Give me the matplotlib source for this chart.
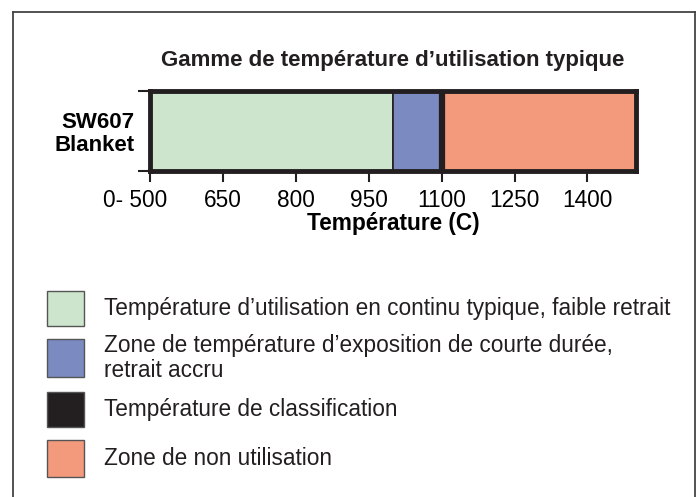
import matplotlib
matplotlib.use("Agg")
import matplotlib.pyplot as plt
from matplotlib.patches import Rectangle
from matplotlib.lines import Line2D
from matplotlib.transforms import ScaledTranslation

plt.rcParams.update({
    "font.family": ["Liberation Sans", "DejaVu Sans"],
    "text.color": "#231f20",
})

# data
product = "SW607\nBlanket"
zone_start = [500, 1000, 1100]
zone_end = [1000, 1100, 1500]
zone_colors = ["#cde4cd", "#7b8bc1", "#f39a7c"]
classification_temp = 1100
tick_values = [500, 650, 800, 950, 1100, 1250, 1400]
tick_labels = ["0- 500", "650", "800", "950", "1100", "1250", "1400"]

legend_labels = [
    "Température d’utilisation en continu typique, faible retrait",
    "Zone de température d’exposition de courte durée,\nretrait accru",
    "Température de classification",
    "Zone de non utilisation",
]
legend_colors = ["#cde4cd", "#7b8bc1", "#231f20", "#f39a7c"]

W, H = 696, 497
fig = plt.figure(figsize=(W / 100, H / 100), dpi=100)
dark = "#231f20"

# outer frame (open at the bottom)
frame = dict(color="#444444", lw=1.3, transform=fig.transFigure)
fig.add_artist(Line2D([13 / W, 13 / W], [0, 1 - 12 / H], **frame))
fig.add_artist(Line2D([13 / W, 694.5 / W], [1 - 12 / H, 1 - 12 / H], **frame))
fig.add_artist(Line2D([694.5 / W, 694.5 / W], [0, 1 - 12 / H], **frame))

# bar axes
ax = fig.add_axes([150 / W, 1 - 171 / H, 486 / W, 80 / H])
widths = [e - s for s, e in zip(zone_start, zone_end)]
ax.barh([0] * len(widths), widths, left=zone_start, height=1.0,
        color=zone_colors, edgecolor=dark, linewidth=1.2)
ax.axvline(classification_temp, color=dark, lw=4.5)
ax.set_xlim(zone_start[0], zone_end[-1])
ax.set_ylim(-0.5, 0.5)
for s in ax.spines.values():
    s.set_linewidth(3.5)
    s.set_color(dark)

ax.set_xticks(tick_values)
ax.set_xticklabels(tick_labels, fontsize=16.3)
ax.tick_params(axis="x", length=8, width=1.5, color=dark, pad=5)
first = ax.get_xticklabels()[0]
first.set_horizontalalignment("right")
first.set_transform(first.get_transform() + ScaledTranslation(17 / 100, 0, fig.dpi_scale_trans))

ax.set_yticks([0])
ax.set_yticklabels([product], fontsize=16, fontweight="bold", linespacing=1.1)
ax.set_yticks([-0.5, 0.5], minor=True)
ax.tick_params(axis="y", which="major", length=0, pad=11)
ax.tick_params(axis="y", which="minor", length=9, width=1.5, color=dark)

ax.set_xlabel("Température (C)", fontsize=16.3, fontweight="bold", labelpad=0)
ax.set_title("Gamme de température d’utilisation typique", fontsize=16,
             fontweight="bold", pad=18)

# legend
patch_rows = [(291, 326), (339, 377), (392, 427), (440, 477)]
for (y0, y1), c, lab in zip(patch_rows, legend_colors, legend_labels):
    fig.add_artist(Rectangle((47 / W, 1 - y1 / H), 37 / W, (y1 - y0) / H,
                             transform=fig.transFigure, facecolor=c,
                             edgecolor="#555555", lw=1))
    fig.text(104 / W, 1 - (y0 + y1) / 2 / H, lab, fontsize=16.3, va="center",
             ha="left", linespacing=1.15)

fig.savefig("out.png", dpi=100)
